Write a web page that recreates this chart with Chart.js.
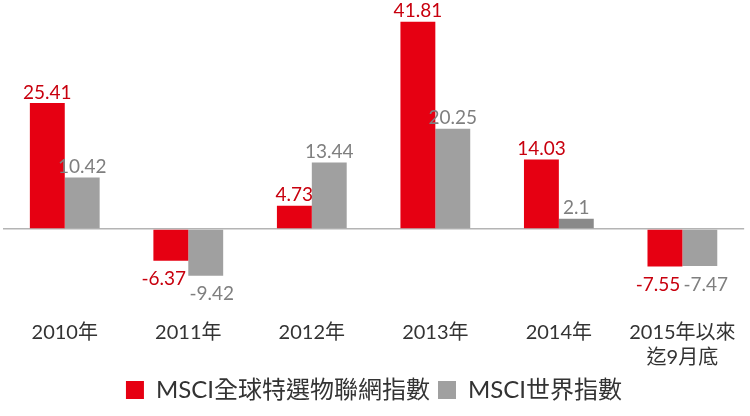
<!DOCTYPE html>
<html>
<head>
<meta charset="utf-8">
<script src="https://cdn.jsdelivr.net/npm/chart.js@4.4.0/dist/chart.umd.min.js"></script>
<style>
  html, body { margin: 0; padding: 0; background: #fff; }
  #wrap { width: 750px; height: 416px; position: relative; }
</style>
</head>
<body>
<div id="wrap"><canvas id="chart"></canvas></div>
<script>
// données
const categories = ["2010年", "2011年", "2012年", "2013年", "2014年", ["2015年以來", "迄9月底"]];
const iotValues = [25.41, -6.37, 4.73, 41.81, 14.03, -7.55];
const worldValues = [10.42, -9.42, 13.44, 20.25, 2.1, -7.47];
const seriesNames = ["MSCI全球特選物聯網指數", "MSCI世界指數"];

const FONT = 'Lato, "Noto Sans CJK TC", sans-serif';
const RED = "#e60012";
const GRAY = "#a0a0a0";

// étiquettes de valeurs au-dessus / en dessous des barres
const valueLabels = {
  id: "valueLabels",
  afterDatasetsDraw(chart) {
    const ctx = chart.ctx;
    ctx.save();
    ctx.font = "19px " + FONT;
    ctx.textAlign = "center";
    chart.data.datasets.forEach((ds, i) => {
      const meta = chart.getDatasetMeta(i);
      ctx.fillStyle = i === 0 ? "#c8000e" : "#7f7f7f";
      meta.data.forEach((bar, j) => {
        const v = ds.data[j];
        if (v >= 0) {
          ctx.textBaseline = "bottom";
          ctx.fillText(String(v), bar.x, bar.y - 1);
        } else {
          // négatifs : un peu écartés pour ne pas se chevaucher
          ctx.textBaseline = "top";
          ctx.fillText(String(v), bar.x + (i === 0 ? -7 : 6), bar.y + 9);
        }
      });
    });
    ctx.restore();
  }
};

new Chart(document.getElementById("chart"), {
  type: "bar",
  data: {
    labels: categories,
    datasets: [
      { label: seriesNames[0], data: iotValues, backgroundColor: RED },
      {
        label: seriesNames[1],
        data: worldValues,
        backgroundColor: worldValues.map((v, j) => j === 4 ? "#8a8a8a" : GRAY)
      }
    ]
  },
  options: {
    responsive: true,
    maintainAspectRatio: false,
    animation: false,
    layout: { padding: { left: 3, right: 5, top: 6, bottom: 4 } },
    datasets: { bar: { categoryPercentage: 0.565, barPercentage: 1 } },
    scales: {
      x: {
        grid: { display: false },
        border: { display: false },
        ticks: { color: "#333", font: { family: FONT, size: 20, lineHeight: 1.25 }, padding: 14, maxRotation: 0 },
        afterFit(scale) { scale.height -= 14; }
      },
      y: {
        min: -13.9,
        max: 45,
        border: { display: false },
        ticks: { display: false, stepSize: 1 },
        grid: {
          drawTicks: false,
          color: (c) => c.tick && c.tick.value === 0 ? "#b4b4b4" : "rgba(0,0,0,0)",
          lineWidth: 1.5
        }
      }
    },
    plugins: {
      legend: {
        position: "bottom",
        labels: {
          color: "#333",
          font: { family: FONT, size: 24 },
          boxWidth: 18,
          boxHeight: 18,
          padding: 8,
          generateLabels(chart) {
            return chart.data.datasets.map((ds, i) => ({
              text: ds.label,
              fillStyle: i === 0 ? RED : GRAY,
              strokeStyle: i === 0 ? RED : GRAY,
              lineWidth: 0,
              datasetIndex: i,
              fontColor: "#333"
            }));
          }
        }
      },
      tooltip: { enabled: false }
    }
  },
  plugins: [valueLabels]
});
</script>
</body>
</html>
